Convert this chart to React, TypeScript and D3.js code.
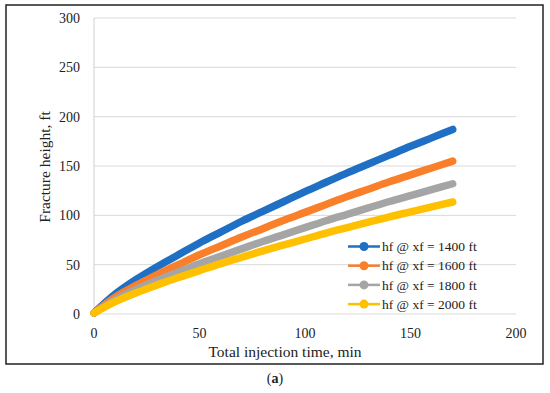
import React from "react";
import * as d3 from "d3";

const times = [0, 10, 20, 30, 40, 50, 60, 70, 80, 90, 100, 110, 120, 130, 140, 150, 160, 170];
const hf1400 = [1, 20, 35, 48, 60, 72, 83, 94, 104, 114, 124, 133.5, 143, 152, 161, 170, 178.5, 187];
const hf1600 = [1, 17, 29, 40, 50, 60, 69, 78, 86.5, 95, 103, 111, 119, 126.5, 134, 141, 148, 155];
const hf1800 = [1, 14.5, 25, 34, 42.5, 51, 58.5, 66, 73.5, 80.5, 87.5, 94.5, 101, 107.5, 114, 120, 126, 132];
const hf2000 = [1, 12.5, 21.5, 29.5, 37, 44, 51, 57.5, 64, 70, 76, 82, 87.5, 93, 98.5, 103.5, 108.5, 113.5];
const seriesNames = ["hf @ xf = 1400 ft", "hf @ xf = 1600 ft", "hf @ xf = 1800 ft", "hf @ xf = 2000 ft"];
const seriesColors = ["#1f70c4", "#f97f2a", "#a5a5a5", "#ffc000"];
const xTicks = [0, 50, 100, 150, 200];
const yTicks = [0, 50, 100, 150, 200, 250, 300];

export default function App() {
  const W = 550, H = 393;
  const x = d3.scaleLinear().domain([0, 200]).range([94, 516]);
  const y = d3.scaleLinear().domain([0, 300]).range([314, 18]);
  const all = [hf1400, hf1600, hf1800, hf2000];
  const line = d3.line<number>().x((_, i) => x(times[i])).y((d) => y(d)).curve(d3.curveMonotoneX);
  const font = "'Liberation Serif', 'Times New Roman', serif";
  return (
    <svg width={W} height={H} style={{ position: "absolute", left: 0, top: 0 }} fontFamily={font}>
      <rect x={0} y={0} width={W} height={H} fill="#fff" />
      <rect x={6} y={5} width={537} height={359} fill="#fff" stroke="#222" strokeWidth={1.5} />
      {yTicks.map((t) => (
        <line key={t} x1={94} x2={516} y1={y(t)} y2={y(t)} stroke="#d9d9d9" strokeWidth={1} />
      ))}
      <line x1={94} x2={94} y1={y(300)} y2={y(0)} stroke="#d0d0d0" strokeWidth={1} />
      {yTicks.map((t) => (
        <text key={t} x={80} y={y(t)} dy="0.35em" textAnchor="end" fontSize={14} fill="#222">{t}</text>
      ))}
      {xTicks.map((t) => (
        <text key={t} x={x(t)} y={338} textAnchor="middle" fontSize={14} fill="#222">{t}</text>
      ))}
      <text x={285} y={357} textAnchor="middle" fontSize={15.5} fill="#222">Total injection time, min</text>
      <text transform="translate(50,167) rotate(-90)" textAnchor="middle" fontSize={15.5} fill="#222">Fracture height, ft</text>
      {all.map((s, i) => (
        <path key={i} d={line(s) || ""} fill="none" stroke={seriesColors[i]} strokeWidth={7.5} strokeLinecap="round" strokeLinejoin="round" />
      ))}
      {seriesNames.map((n, i) => {
        const ly = 246.5 + i * 19.2;
        return (
          <g key={n}>
            <line x1={348} x2={380} y1={ly} y2={ly} stroke={seriesColors[i]} strokeWidth={2.5} />
            <circle cx={364} cy={ly} r={4.5} fill={seriesColors[i]} />
            <text x={382} y={ly} dy="0.35em" fontSize={13.5} fill="#222">{n}</text>
          </g>
        );
      })}
      <text x={275} y={383} textAnchor="middle" fontSize={14} fill="#222">(<tspan fontWeight="bold">a</tspan>)</text>
    </svg>
  );
}
